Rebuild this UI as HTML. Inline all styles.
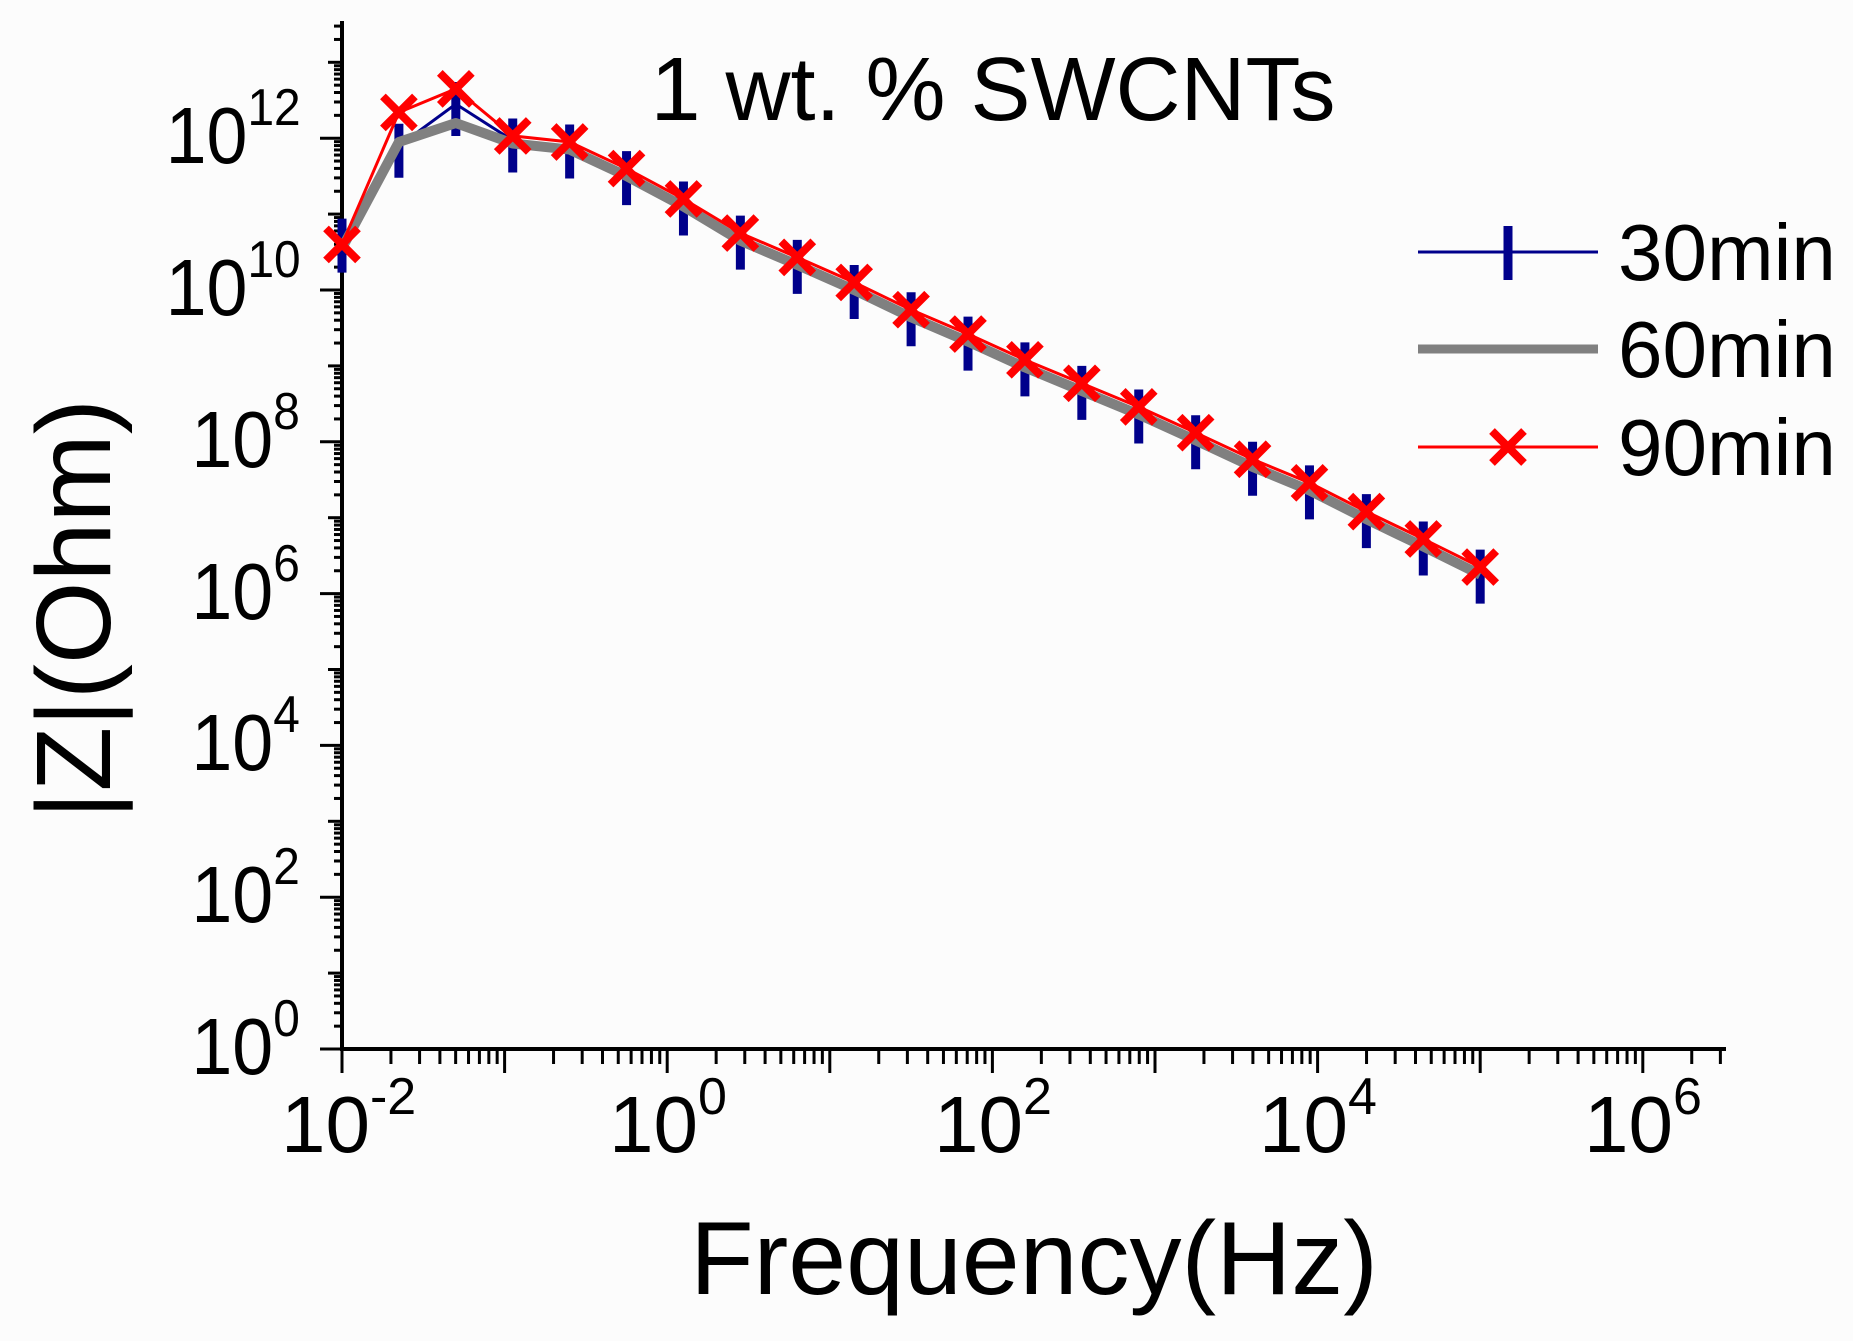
<!DOCTYPE html>
<html><head><meta charset="utf-8"><style>
html,body{margin:0;padding:0;background:#fcfcfc;}
svg{display:block;font-family:"Liberation Sans",Arial,sans-serif;}
</style></head><body>
<svg id="s" width="1853" height="1341" viewBox="0 0 1853 1341" xmlns="http://www.w3.org/2000/svg">
<rect width="1853" height="1341" fill="#fcfcfc"/>
<g id="ticks" stroke="#000" stroke-width="3"></g>
<line x1="342" y1="21" x2="342" y2="1050" stroke="#000" stroke-width="4"/>
<line x1="340" y1="1049" x2="1726" y2="1049" stroke="#000" stroke-width="4"/>
<g id="data"></g>
<g font-size="80" fill="#000" transform="scale(0.92,1)">
<text x="208" y="1074">10<tspan dy="-38" font-size="52">0</tspan></text>
<text x="208" y="922">10<tspan dy="-38" font-size="52">2</tspan></text>
<text x="208" y="770">10<tspan dy="-38" font-size="52">4</tspan></text>
<text x="208" y="619">10<tspan dy="-38" font-size="52">6</tspan></text>
<text x="208" y="467">10<tspan dy="-38" font-size="52">8</tspan></text>
<text x="180" y="315">10<tspan dy="-38" font-size="52">10</tspan></text>
<text x="180" y="163">10<tspan dy="-38" font-size="52">12</tspan></text>
</g>
<g font-size="80" fill="#000">
<text x="281" y="1152">10<tspan dy="-38" font-size="52">-2</tspan></text>
<text x="609" y="1152">10<tspan dy="-38" font-size="52">0</tspan></text>
<text x="934" y="1152">10<tspan dy="-38" font-size="52">2</tspan></text>
<text x="1259" y="1152">10<tspan dy="-38" font-size="52">4</tspan></text>
<text x="1584" y="1152">10<tspan dy="-38" font-size="52">6</tspan></text>
</g>
<text x="1034" y="1294" font-size="104" text-anchor="middle">Frequency(Hz)</text>
<text transform="translate(110,609) rotate(-90)" font-size="106" text-anchor="middle">|Z|(Ohm)</text>
<text x="993" y="120" font-size="90" text-anchor="middle">1 wt. % SWCNTs</text>
<line x1="1418" y1="252" x2="1598" y2="252" stroke="#00008b" stroke-width="3"/>
<line x1="1508" y1="226" x2="1508" y2="280" stroke="#00008b" stroke-width="9"/>
<line x1="1418" y1="349" x2="1598" y2="349" stroke="#808080" stroke-width="9"/>
<line x1="1418" y1="447" x2="1598" y2="447" stroke="#ff0000" stroke-width="3"/>
<path d="M1492 431 L1524 463 M1524 431 L1492 463" stroke="#ff0000" stroke-width="8"/>
<g font-size="80" fill="#000">
<text x="1618" y="280">30min</text>
<text x="1618" y="377">60min</text>
<text x="1618" y="475">90min</text>
</g>
</svg>
<script>
var NS="http://www.w3.org/2000/svg";
function X(l){return 342+(l+2)*162.6;}
function Y(l){return 1049-l*75.9;}
function el(p,n,a){var e=document.createElementNS(NS,n);for(var k in a)e.setAttribute(k,a[k]);p.appendChild(e);return e;}
var t=document.getElementById("ticks");
for(var d=-2;d<=6;d++){
 el(t,"line",{x1:X(d),y1:1049,x2:X(d),y2:1073});
 for(var m=2;m<=9;m++){var l=d+Math.log10(m);if(X(l)>1726)break;el(t,"line",{x1:X(l),y1:1049,x2:X(l),y2:1064});}
}
for(var d=0;d<=13;d++){
 el(t,"line",{x1:342,y1:Y(d),x2:(d%2==0?320:328),y2:Y(d)});
 for(var m=2;m<=9;m++){var l=d+Math.log10(m);if(Y(l)<21)break;el(t,"line",{x1:342,y1:Y(l),x2:334,y2:Y(l)});}
}
var red=[10.6,12.34,12.65,12.03,11.95,11.6,11.2,10.75,10.43,10.1,9.74,9.42,9.08,8.77,8.46,8.12,7.77,7.46,7.08,6.72,6.35];
var blue=red.map(function(v,i){return i==0?10.65:i==1?11.9:i==2?12.45:v-0.06;});
var gray=red.map(function(v,i){return i==0?10.55:i==1?11.95:i==2?12.2:v-0.1;});
var g=document.getElementById("data");
function pts(a){return a.map(function(v,i){return X(-2+i*0.35)+","+Y(v);}).join(" ");}
el(g,"polyline",{points:pts(blue),fill:"none",stroke:"#00008b","stroke-width":3});
blue.forEach(function(v,i){var x=X(-2+i*0.35),y=Y(v);el(g,"line",{x1:x,y1:y-22,x2:x,y2:y+32,stroke:"#00008b","stroke-width":9});});
el(g,"polyline",{points:pts(gray),fill:"none",stroke:"#808080","stroke-width":10,"stroke-linejoin":"round"});
el(g,"polyline",{points:pts(red),fill:"none",stroke:"#ff0000","stroke-width":3});
red.forEach(function(v,i){var x=X(-2+i*0.35),y=Y(v),r=16;el(g,"path",{d:"M"+(x-r)+" "+(y-r)+"L"+(x+r)+" "+(y+r)+"M"+(x+r)+" "+(y-r)+"L"+(x-r)+" "+(y+r),stroke:"#ff0000","stroke-width":8});});
</script>
</body></html>
